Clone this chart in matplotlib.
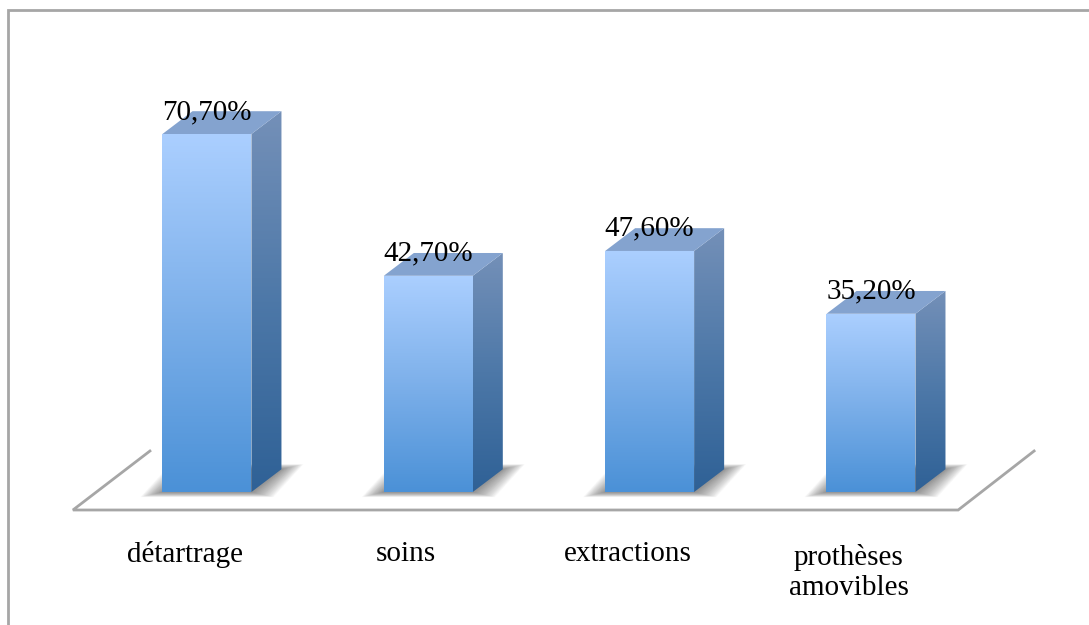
import numpy as np
import matplotlib
matplotlib.use("Agg")
import matplotlib.pyplot as plt
from matplotlib.colors import LinearSegmentedColormap
from matplotlib.patches import Polygon

categories = ["détartrage", "soins", "extractions", "prothèses\namovibles"]
values = [70.7, 42.7, 47.6, 35.2]
value_labels = ["70,70%", "42,70%", "47,60%", "35,20%"]
# floor outline, in chart units
floor_x = [-0.2576, -0.6055, 3.394, 3.737]
floor_y = [8.1, -3.55, -3.55, 8.1]

BAR_W = 0.402
DEPTH_X = 0.1356
DEPTH_Y = 4.5
GREY = "#a6a6a6"

front_cmap = LinearSegmentedColormap.from_list("front", ["#4b91d7", "#7db0ea", "#abcfff"])
side_cmap = LinearSegmentedColormap.from_list("side", ["#2f6196", "#4d78a8", "#7490b8"])


# fill a polygon with a vertical gradient
def grad_poly(ax, pts, cmap, z):
    pts = np.array(pts)
    ext = [pts[:, 0].min(), pts[:, 0].max(), pts[:, 1].min(), pts[:, 1].max()]
    grad = np.linspace(1, 0, 128).reshape(-1, 1)
    im = ax.imshow(grad, cmap=cmap, extent=ext, aspect="auto", zorder=z, vmin=0, vmax=1)
    clip = Polygon(pts, transform=ax.transData, fc="none", ec="none")
    ax.add_patch(clip)
    im.set_clip_path(clip)


# soft shadow on the floor, stacked see-through polygons
def floor_shadow(ax, x0, x1):
    steps = 30
    for i in range(steps):
        g = (steps - i) / steps
        gx = 0.1 * g
        gy = 1.0 * g
        pts = [(x0 - gx, -gy), (x1 + gx, -gy),
               (x1 + DEPTH_X + gx, DEPTH_Y + gy), (x0 + DEPTH_X - gx, DEPTH_Y + gy)]
        ax.add_patch(Polygon(pts, fc="#555555", ec="none", alpha=0.026, zorder=2))


def draw_bar(ax, c, v, label):
    x0, x1 = c - BAR_W / 2, c + BAR_W / 2
    floor_shadow(ax, x0, x1)
    grad_poly(ax, [(x1, 0), (x1 + DEPTH_X, DEPTH_Y), (x1 + DEPTH_X, v + DEPTH_Y), (x1, v)], side_cmap, 3)
    grad_poly(ax, [(x0, 0), (x1, 0), (x1, v), (x0, v)], front_cmap, 4)
    top = [(x0, v), (x1, v), (x1 + DEPTH_X, v + DEPTH_Y), (x0 + DEPTH_X, v + DEPTH_Y)]
    ax.add_patch(Polygon(top, fc="#84a3cf", ec="none", zorder=4))
    ax.text(c, v + 1.8, label, ha="center", va="bottom", fontsize=21,
            family="Liberation Serif", color="black", zorder=6)


def main():
    fig = plt.figure(figsize=(10.89, 6.25), dpi=100)
    ax = fig.add_axes([0, 0, 1, 1])

    # chart frame: left and top only, the rest is cropped off
    ax.plot([0.0078, 0.0078, 1], [0, 0.984, 0.984], transform=ax.transAxes,
            color=GREY, lw=2, solid_joinstyle="miter", zorder=1)

    ax.plot(floor_x, floor_y, color=GREY, lw=2, zorder=1, solid_joinstyle="miter")

    centers = np.arange(len(values))
    for c, v, lab in zip(centers, values, value_labels):
        draw_bar(ax, c, v, lab)

    for c, name in zip(centers, categories):
        # the two-line label sits a little lower
        y = -10.2 if "\n" in name else -9.6
        ax.text(c - 0.1, y, name, ha="center", va="top", fontsize=21,
                family="Liberation Serif", color="black", linespacing=1.2)

    ax.set_xlim(-0.935, 3.985)
    ax.set_ylim(-26.26, 97.16)
    ax.axis("off")
    fig.savefig("out.png", dpi=100)


if __name__ == "__main__":
    main()
